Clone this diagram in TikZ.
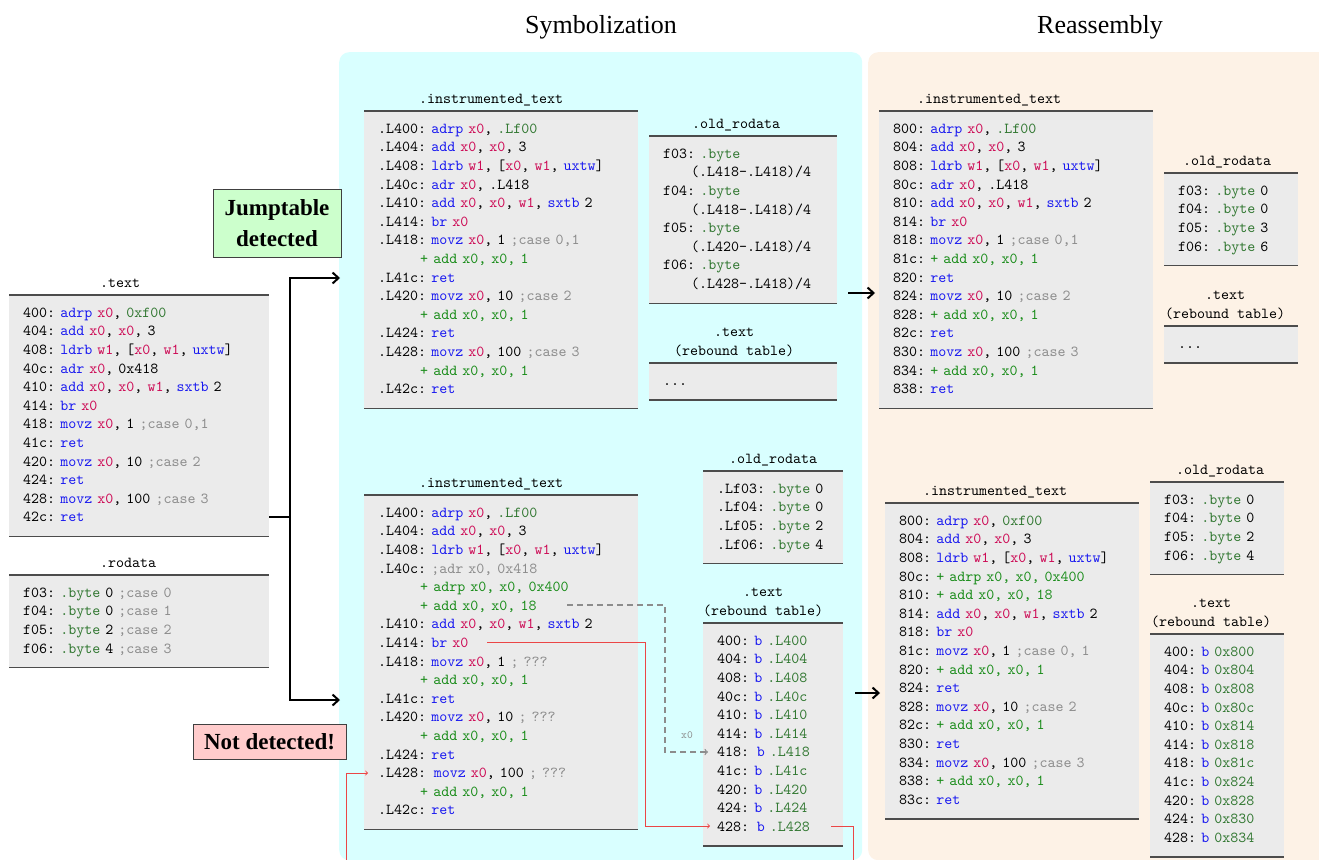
\documentclass[tikz,border=0pt]{standalone}
\usepackage{fontspec}
\setmainfont{Liberation Serif}
\setmonofont{lmmono10-regular.otf}
\usetikzlibrary{positioning,calc,arrows.meta}

\definecolor{symbcol}{RGB}{217,255,255}
\definecolor{reascol}{RGB}{253,242,230}
\definecolor{boxgray}{RGB}{235,235,235}
\definecolor{okcol}{RGB}{204,255,204}
\definecolor{badcol}{RGB}{255,204,204}
\definecolor{jumpred}{RGB}{235,70,70}
\definecolor{opc}{RGB}{25,25,240}
\definecolor{rgs}{RGB}{205,10,85}
\definecolor{lbl}{RGB}{50,120,50}
\definecolor{newi}{RGB}{25,140,25}
\definecolor{cmt}{RGB}{140,140,140}

\newcommand{\codefont}{\fontsize{15.24}{18.6}\selectfont\ttfamily\frenchspacing}
\newcommand{\opc}[1]{\textcolor{opc}{#1}}
\newcommand{\rgs}[1]{\textcolor{rgs}{#1}}
\newcommand{\lbl}[1]{\textcolor{lbl}{#1}}
\newcommand{\newi}[1]{\textcolor{newi}{#1}}
\newcommand{\cmt}[1]{\textcolor{cmt}{#1}}
\newcommand{\insind}{\hspace*{42pt}}
\newcommand{\contind}{\hspace*{28pt}}

\begin{document}
\begin{tikzpicture}[x=1pt, y=1pt, >=to,
 code/.style = {fill=boxgray, anchor=north west, align=left, text width=#1, inner xsep=14pt, inner ysep=9pt,
                font=\codefont, execute at begin node=\strut, execute at end node=\strut},
 sectitle/.style = {inner sep=0pt, font=\codefont, align=center, execute at end node=\strut},
 secrule/.style = {draw=black!70, line width=1.3pt},
 panel/.style = {rounded corners=10pt, inner sep=0pt, anchor=north west},
 heading/.style = {font=\fontsize{26}{30}\selectfont},
 tag/.style = {draw=black!75, line width=0.8pt, align=center, inner sep=2pt, font=\bfseries\fontsize{23}{31}\selectfont},
 flow/.style = {-{Straight Barb[length=6pt,width=11pt]}, line width=2pt},
 jump/.style = {->, draw=jumpred, line width=0.9pt},
 reach/.style = {->, draw=black!45, line width=1.3pt, dash pattern=on 6pt off 4pt},
 xlbl/.style = {font=\fontsize{11}{13}\selectfont\ttfamily, text=black!45, inner sep=0pt},
                        ]
    \useasboundingbox (0,0) rectangle (1319,-859);

%% panels
    \node [panel, fill=symbcol, minimum width=523pt, minimum height=808pt] (symb) at (339,-52) {};
    \node [panel, fill=reascol, minimum width=470pt, minimum height=808pt] (reas) at (868,-52) {};
    \node [heading] (hsymb) at (601,-27) {Symbolization};
    \node [heading] (hreas) at (1100,-27) {Reassembly};

%% original binary
    \node [code=232pt] (txt) at (9,-295) {%
400: \opc{adrp} \rgs{x0}, \lbl{0xf00}\\
404: \opc{add} \rgs{x0}, \rgs{x0}, 3\\
408: \opc{ldrb} \rgs{w1}, [\rgs{x0}, \rgs{w1}, \opc{uxtw}]\\
40c: \opc{adr} \rgs{x0}, 0x418\\
410: \opc{add} \rgs{x0}, \rgs{x0}, \rgs{w1}, \opc{sxtb} 2\\
414: \opc{br} \rgs{x0}\\
418: \opc{movz} \rgs{x0}, 1 \cmt{;case 0,1}\\
41c: \opc{ret}\\
420: \opc{movz} \rgs{x0}, 10 \cmt{;case 2}\\
424: \opc{ret}\\
428: \opc{movz} \rgs{x0}, 100 \cmt{;case 3}\\
42c: \opc{ret}};
    \node [code=232pt] (rod) at (9,-575) {%
f03: \lbl{.byte} 0 \cmt{;case 0}\\
f04: \lbl{.byte} 0 \cmt{;case 1}\\
f05: \lbl{.byte} 2 \cmt{;case 2}\\
f06: \lbl{.byte} 4 \cmt{;case 3}};

%% symbolization, jumptable detected
    \node [code=246pt] (sinst) at (364,-111) {%
.L400: \opc{adrp} \rgs{x0}, \lbl{.Lf00}\\
.L404: \opc{add} \rgs{x0}, \rgs{x0}, 3\\
.L408: \opc{ldrb} \rgs{w1}, [\rgs{x0}, \rgs{w1}, \opc{uxtw}]\\
.L40c: \opc{adr} \rgs{x0}, .L418\\
.L410: \opc{add} \rgs{x0}, \rgs{x0}, \rgs{w1}, \opc{sxtb} 2\\
.L414: \opc{br} \rgs{x0}\\
.L418: \opc{movz} \rgs{x0}, 1 \cmt{;case 0,1}\\
\insind\newi{+ add x0, x0, 1}\\
.L41c: \opc{ret}\\
.L420: \opc{movz} \rgs{x0}, 10 \cmt{;case 2}\\
\insind\newi{+ add x0, x0, 1}\\
.L424: \opc{ret}\\
.L428: \opc{movz} \rgs{x0}, 100 \cmt{;case 3}\\
\insind\newi{+ add x0, x0, 1}\\
.L42c: \opc{ret}};
    \node [code=160pt] (sold) at (649,-136) {%
f03: \lbl{.byte}\\
\contind(.L418-.L418)/4\\
f04: \lbl{.byte}\\
\contind(.L418-.L418)/4\\
f05: \lbl{.byte}\\
\contind(.L420-.L418)/4\\
f06: \lbl{.byte}\\
\contind(.L428-.L418)/4};
    \node [code=160pt] (srb) at (649,-363) {...};

%% symbolization, not detected
    \node [code=246pt] (linst) at (364,-495) {%
.L400: \opc{adrp} \rgs{x0}, \lbl{.Lf00}\\
.L404: \opc{add} \rgs{x0}, \rgs{x0}, 3\\
.L408: \opc{ldrb} \rgs{w1}, [\rgs{x0}, \rgs{w1}, \opc{uxtw}]\\
.L40c: \cmt{;adr x0, 0x418}\\
\insind\newi{+ adrp x0, x0, 0x400}\\
\insind\newi{+ add x0, x0, 18}\\
.L410: \opc{add} \rgs{x0}, \rgs{x0}, \rgs{w1}, \opc{sxtb} 2\\
.L414: \opc{br} \rgs{x0}\\
.L418: \opc{movz} \rgs{x0}, 1 \cmt{; ???}\\
\insind\newi{+ add x0, x0, 1}\\
.L41c: \opc{ret}\\
.L420: \opc{movz} \rgs{x0}, 10 \cmt{; ???}\\
\insind\newi{+ add x0, x0, 1}\\
.L424: \opc{ret}\\
.L428:\, \opc{movz} \rgs{x0}, 100 \cmt{; ???}\\
\insind\newi{+ add x0, x0, 1}\\
.L42c: \opc{ret}};
    \node [code=112pt] (lold) at (703,-471) {%
.Lf03: \lbl{.byte} 0\\
.Lf04: \lbl{.byte} 0\\
.Lf05: \lbl{.byte} 2\\
.Lf06: \lbl{.byte} 4};
    \node [code=112pt] (lrb) at (703,-623) {%
400: \opc{b} \lbl{.L400}\\
404: \opc{b} \lbl{.L404}\\
408: \opc{b} \lbl{.L408}\\
40c: \opc{b} \lbl{.L40c}\\
410: \opc{b} \lbl{.L410}\\
414: \opc{b} \lbl{.L414}\\
418:\, \opc{b} \lbl{.L418}\\
41c: \opc{b} \lbl{.L41c}\\
420: \opc{b} \lbl{.L420}\\
424: \opc{b} \lbl{.L424}\\
428:\, \opc{b} \lbl{.L428}};

%% reassembly, upper
    \node [code=246pt] (rinst) at (879,-111) {%
800: \opc{adrp} \rgs{x0}, \lbl{.Lf00}\\
804: \opc{add} \rgs{x0}, \rgs{x0}, 3\\
808: \opc{ldrb} \rgs{w1}, [\rgs{x0}, \rgs{w1}, \opc{uxtw}]\\
80c: \opc{adr} \rgs{x0}, .L418\\
810: \opc{add} \rgs{x0}, \rgs{x0}, \rgs{w1}, \opc{sxtb} 2\\
814: \opc{br} \rgs{x0}\\
818: \opc{movz} \rgs{x0}, 1 \cmt{;case 0,1}\\
81c: \newi{+ add x0, x0, 1}\\
820: \opc{ret}\\
824: \opc{movz} \rgs{x0}, 10 \cmt{;case 2}\\
828: \newi{+ add x0, x0, 1}\\
82c: \opc{ret}\\
830: \opc{movz} \rgs{x0}, 100 \cmt{;case 3}\\
834: \newi{+ add x0, x0, 1}\\
838: \opc{ret}};
    \node [code=106pt] (rold) at (1164,-173) {%
f03: \lbl{.byte} 0\\
f04: \lbl{.byte} 0\\
f05: \lbl{.byte} 3\\
f06: \lbl{.byte} 6};
    \node [code=106pt] (rrb) at (1164,-326) {...};

%% reassembly, lower
    \node [code=226pt] (rlinst) at (885,-503) {%
800: \opc{adrp} \rgs{x0}, \lbl{0xf00}\\
804: \opc{add} \rgs{x0}, \rgs{x0}, 3\\
808: \opc{ldrb} \rgs{w1}, [\rgs{x0}, \rgs{w1}, \opc{uxtw}]\\
80c: \newi{+ adrp x0, x0, 0x400}\\
810: \newi{+ add x0, x0, 18}\\
814: \opc{add} \rgs{x0}, \rgs{x0}, \rgs{w1}, \opc{sxtb} 2\\
818: \opc{br} \rgs{x0}\\
81c: \opc{movz} \rgs{x0}, 1 \cmt{;case 0, 1}\\
820: \newi{+ add x0, x0, 1}\\
824: \opc{ret}\\
828: \opc{movz} \rgs{x0}, 10 \cmt{;case 2}\\
82c: \newi{+ add x0, x0, 1}\\
830: \opc{ret}\\
834: \opc{movz} \rgs{x0}, 100 \cmt{;case 3}\\
838: \newi{+ add x0, x0, 1}\\
83c: \opc{ret}};
    \node [code=106pt] (rlold) at (1150,-482) {%
f03: \lbl{.byte} 0\\
f04: \lbl{.byte} 0\\
f05: \lbl{.byte} 2\\
f06: \lbl{.byte} 4};
    \node [code=106pt] (rlrb) at (1150,-634) {%
400: \opc{b} \lbl{0x800}\\
404: \opc{b} \lbl{0x804}\\
408: \opc{b} \lbl{0x808}\\
40c: \opc{b} \lbl{0x80c}\\
410: \opc{b} \lbl{0x814}\\
414: \opc{b} \lbl{0x818}\\
418: \opc{b} \lbl{0x81c}\\
41c: \opc{b} \lbl{0x824}\\
420: \opc{b} \lbl{0x828}\\
424: \opc{b} \lbl{0x830}\\
428: \opc{b} \lbl{0x834}};

%% section titles and rules
    \foreach \b/\t/\s in {txt/.text/-19, rod/.rodata/-11, sinst/.instrumented\_text/-10,
        sold/.old\_rodata/-7, srb/{.text\\(rebound table)}/-9, linst/.instrumented\_text/-10,
        lold/.old\_rodata/0, lrb/{.text\\(rebound table)}/-10, rinst/.instrumented\_text/-27,
        rold/.old\_rodata/-4, rrb/{.text\\(rebound table)}/-6, rlinst/.instrumented\_text/-17,
        rlold/.old\_rodata/3, rlrb/{.text\\(rebound table)}/-6}
    {
      \node [sectitle, above=2pt of \b, xshift=\s pt] (\b-title) {\t};
      \draw [secrule] (\b.north west) -- (\b.north east) (\b.south west) -- (\b.south east);
    }

%% detection tags
    \node [tag, fill=okcol, minimum width=128pt, minimum height=68pt] (found) at (277,-223) {Jumptable\\detected};
    \node [tag, fill=badcol, minimum width=153pt, minimum height=35pt] (missed) at (269.5,-741.5) {Not detected!};

%% paths
    \coordinate (split) at (290,-517);
    \coordinate (toup)  at (340,-278);
    \coordinate (tolow) at (340,-700);
    \draw [line width=2pt] (txt.east |- split) -- (split);
    \draw [flow] (split) |- (toup);
    \draw [flow] (split) |- (tolow);
    \coordinate (upout) at (848,-293);
    \coordinate (upin)  at (875,-293);
    \coordinate (lowout) at (855,-693);
    \coordinate (lowin)  at (880,-693);
    \draw [flow] (upout) -- (upin);
    \draw [flow] (lowout) -- (lowin);

    \coordinate (brx)   at ($(linst.north west)+(123,-147)$);
    \coordinate (add18) at ($(linst.north west)+(203,-110)$);
    \coordinate (l428)  at ($(linst.north west)+(4,-278)$);
    \coordinate (rb418) at ($(lrb.north west)+(5,-129)$);
    \coordinate (rb428) at ($(lrb.north west)+(7,-203)$);
    \coordinate (rbend) at ($(lrb.north west)+(128,-203)$);
    \coordinate (redcol) at (645,-826);
    \coordinate (dash)  at (665,-752);
    \coordinate (wrapR) at (853,-880);
    \coordinate (wrapL) at (346,-880);

    \draw [reach] (add18) -| (dash) -- (rb418);
    \node [xlbl] (xreg) at ($(dash)+(22,17)$) {x0};
    \draw [jump] (brx) -| (redcol) -- (rb428);
    \draw [jump] (rbend) -| (wrapR) -- (wrapL) |- (l428);
\end{tikzpicture}
\end{document}
